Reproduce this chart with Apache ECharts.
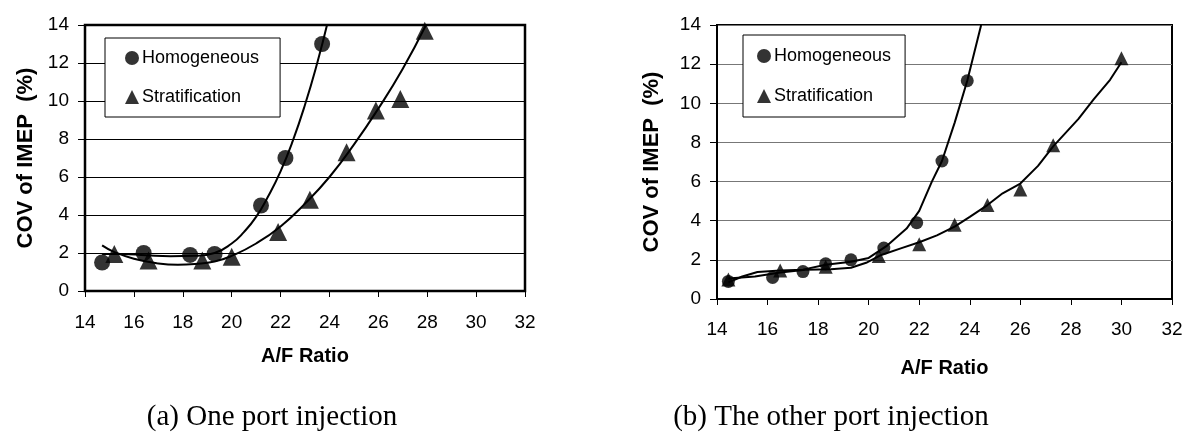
<!DOCTYPE html>
<html>
<head>
<meta charset="utf-8">
<script src="https://cdn.jsdelivr.net/npm/echarts@6/dist/echarts.min.js"></script>
<style>
html,body{margin:0;padding:0;background:#fff;}
#c{width:1186px;height:444px;}
</style>
</head>
<body>
<div id="c"></div>
<script>
// ---- Data ----
const xTicks = [14, 16, 18, 20, 22, 24, 26, 28, 30, 32];
const yTicks = [0, 2, 4, 6, 8, 10, 12, 14];

// (a) One port injection
const homA = [[14.7,1.5],[16.4,2.0],[18.3,1.9],[19.3,1.95],[21.2,4.5],[22.2,7.0],[23.7,13.0]];
const stratA = [[15.2,1.95],[16.6,1.6],[18.8,1.6],[20.0,1.8],[21.9,3.1],[23.2,4.8],[24.7,7.3],[25.9,9.5],[26.9,10.1],[27.9,13.7]];
const homTrendA = [[14.7,1.95],[15.5,1.95],[16.5,1.88],[17.5,1.83],[18.5,1.85],[19.3,2.0],[20,2.5],[20.5,3.1],[21,3.9],[21.5,5.0],[22,6.3],[22.5,7.9],[23,9.8],[23.5,12.0],[23.9,14.0]];
const stratTrendA = [[14.7,2.4],[15.2,2.05],[16,1.7],[17,1.45],[17.8,1.38],[18.5,1.42],[19.3,1.55],[20,1.85],[21,2.5],[22,3.4],[23,4.6],[24,6.0],[25,7.7],[26,9.6],[27,11.7],[27.95,14.0]];

// (b) The other port injection
const homB = [[14.45,0.9],[16.2,1.1],[17.4,1.4],[18.3,1.8],[19.3,2.0],[20.6,2.6],[21.9,3.9],[22.9,7.05],[23.9,11.15]];
const stratB = [[14.45,1.0],[16.5,1.45],[18.3,1.65],[20.4,2.2],[22.0,2.8],[23.4,3.8],[24.7,4.8],[26.0,5.6],[27.3,7.85],[30.0,12.3]];
const homTrendB = [[14.45,0.85],[15,1.15],[15.6,1.38],[16.5,1.45],[17.4,1.5],[18.3,1.75],[19.3,1.9],[20,2.1],[20.7,2.7],[21.5,3.6],[22,4.5],[22.5,6.0],[22.9,7.05],[23.4,9.0],[23.9,11.15],[24.45,14]];
const stratTrendB = [[14.45,1.05],[15.5,1.15],[16.5,1.35],[17.5,1.5],[18.5,1.52],[19.3,1.6],[19.9,1.85],[20.5,2.25],[21.3,2.6],[22,2.9],[22.7,3.25],[23.4,3.7],[24,4.2],[24.7,4.8],[25.3,5.4],[26,5.9],[26.7,6.8],[27.3,7.8],[28.3,9.2],[28.9,10.2],[29.55,11.2],[30,12.1]];

const seriesNames = ['Homogeneous', 'Stratification'];
const xTitle = 'A/F Ratio';
const yTitle = 'COV of IMEP  (%)';
const captions = ['(a) One port injection', '(b) The other port injection'];

// ---- Chart ----
const chart = echarts.init(document.getElementById('c'), null, {renderer: 'canvas'});
const FONT = 'Liberation Sans, Arial, sans-serif';
const SERIF = '29px "Liberation Serif", "Times New Roman", serif';

function xAxis(gridIndex, nameGap, labelMargin) {
  return {
    gridIndex, type: 'value', min: xTicks[0], max: xTicks[xTicks.length-1], interval: 2,
    name: xTitle, nameLocation: 'middle', nameGap,
    nameTextStyle: {fontFamily: FONT, fontWeight: 'bold', fontSize: 20, color: '#000'},
    axisLine: {show: true, onZero: false, lineStyle: {color: '#000', width: 2}},
    axisTick: {show: true, length: 6, lineStyle: {color: '#000', width: 1}},
    axisLabel: {fontFamily: FONT, fontSize: 19, color: '#000', margin: labelMargin},
    splitLine: {show: false}
  };
}
function yAxis(gridIndex, nameGap, gridColor) {
  return {
    gridIndex, type: 'value', min: yTicks[0], max: yTicks[yTicks.length-1], interval: 2,
    name: yTitle, nameLocation: 'middle', nameGap, nameRotate: 90,
    nameTextStyle: {fontFamily: FONT, fontWeight: 'bold', fontSize: 22, color: '#000'},
    axisLine: {show: true, onZero: false, lineStyle: {color: '#000', width: 2}},
    axisTick: {show: true, length: 7, lineStyle: {color: '#000', width: 1}},
    axisLabel: {fontFamily: FONT, fontSize: 19, color: '#000', margin: 16},
    splitLine: {show: true, lineStyle: {color: gridColor, width: 1}}
  };
}
function scatter(name, data, idx, symbol, size) {
  return {name, type: 'scatter', xAxisIndex: idx, yAxisIndex: idx, data, symbol, symbolSize: size,
    itemStyle: {color: '#000'}, z: 5};
}
function trend(data, idx, smooth) {
  return {type: 'line', xAxisIndex: idx, yAxisIndex: idx, data, smooth, showSymbol: false, symbol: 'none',
    lineStyle: {color: '#000', width: 2}, silent: true, z: 4};
}
function legend(left, top, pad, gap) {
  return {
    show: true, left, top, orient: 'vertical', padding: pad, itemGap: gap,
    backgroundColor: '#fff', borderColor: '#000', borderWidth: 1,
    itemWidth: 14, itemHeight: 14, itemStyle: {color: '#000'},
    textStyle: {fontFamily: FONT, fontSize: 18, color: '#000', lineHeight: 18, padding: [0,0,0,-2]},
    selectedMode: false,
    data: [{name: seriesNames[0], icon: 'circle'}, {name: seriesNames[1], icon: 'triangle'}]
  };
}

chart.setOption({
  animation: false,
  backgroundColor: '#fff',
  grid: [
    {left: 85, top: 25, width: 440, height: 266, show: true, borderColor: '#000', borderWidth: 2.5},
    {left: 717, top: 25, width: 455, height: 274, show: true, borderColor: '#000', borderWidth: 2}
  ],
  xAxis: [xAxis(0, 55, 22), xAxis(1, 59, 21)],
  yAxis: [yAxis(0, 48, '#000'), yAxis(1, 54, '#777')],
  legend: [legend(105, 38, [11, 21, 11, 20], 21), legend(743, 35, [12, 14, 12, 14], 22)],
  series: [
    trend(homTrendA, 0, true), trend(stratTrendA, 0, true),
    scatter(seriesNames[0], homA, 0, 'circle', 16),
    scatter(seriesNames[1], stratA, 0, 'triangle', 18),
    trend(homTrendB, 1, false), trend(stratTrendB, 1, false),
    scatter(seriesNames[0], homB, 1, 'circle', 13),
    scatter(seriesNames[1], stratB, 1, 'triangle', 14)
  ],
  graphic: [
    {type: 'text', x: 272, y: 417, style: {text: captions[0], font: SERIF, fill: '#000', align: 'center', verticalAlign: 'middle'}},
    {type: 'text', x: 831, y: 417, style: {text: captions[1], font: SERIF, fill: '#000', align: 'center', verticalAlign: 'middle'}}
  ]
});
</script>
</body>
</html>
